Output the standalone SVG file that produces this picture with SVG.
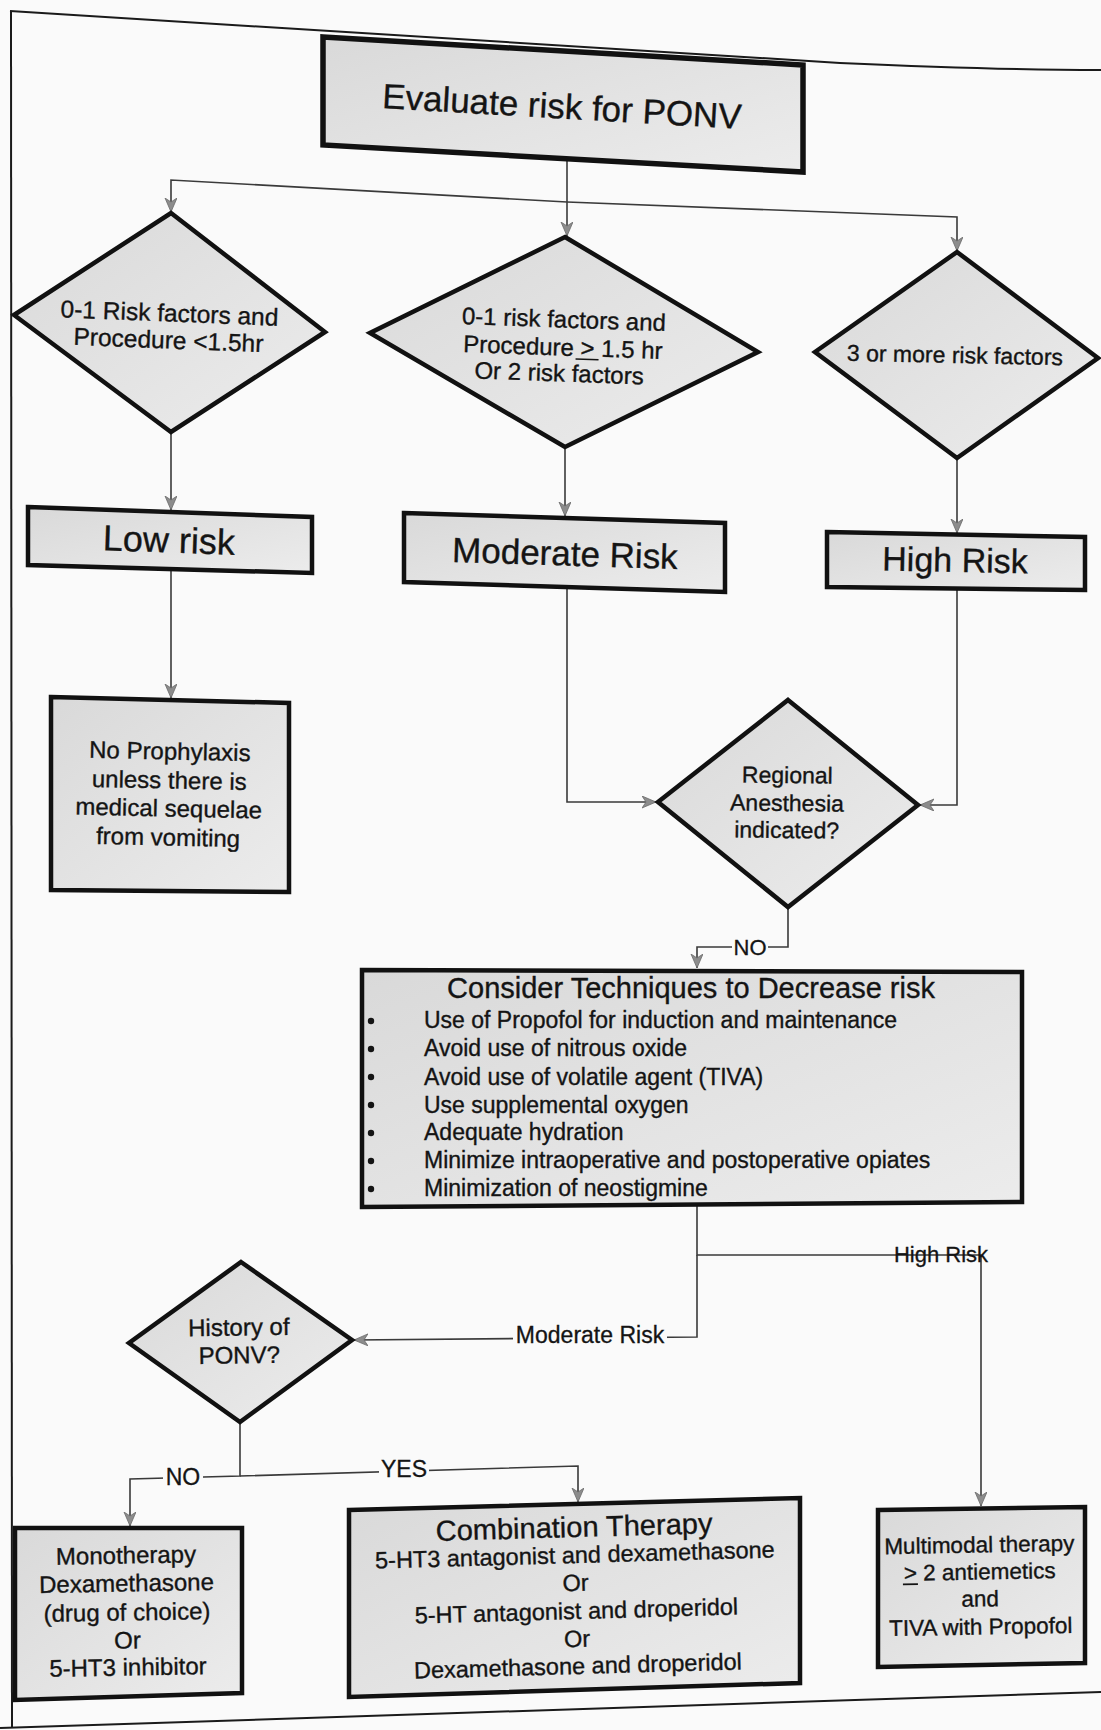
<svg xmlns="http://www.w3.org/2000/svg" width="1101" height="1730" viewBox="0 0 1101 1730">
<style>
.node{fill:url(#g);stroke:#111;stroke-width:4.5;stroke-linejoin:miter}
.t{font-family:"Liberation Sans",Arial,Helvetica,sans-serif;fill:#141414;stroke:#141414;stroke-width:0.35;text-anchor:middle;dominant-baseline:central}
.tl{font-family:"Liberation Sans",Arial,Helvetica,sans-serif;fill:#141414;stroke:#141414;stroke-width:0.35;dominant-baseline:central}
.c{fill:none;stroke:#3a3a3a;stroke-width:1.6}
.lab{font-family:"Liberation Sans",Arial,Helvetica,sans-serif;fill:#141414;stroke:#141414;stroke-width:0.3;text-anchor:middle;dominant-baseline:central;font-size:22px}
.bg{fill:#fafafa}
.ul{stroke:#141414;stroke-width:1.6}
.frame{fill:none;stroke:#1a1a1a;stroke-width:2}
</style>
<defs>
<linearGradient id="g" x1="0" y1="0" x2="1" y2="1">
<stop offset="0" stop-color="#d9d9d9"/>
<stop offset="1" stop-color="#ececec"/>
</linearGradient>
<marker id="a" markerUnits="userSpaceOnUse" markerWidth="16" markerHeight="14" refX="14" refY="6" orient="auto">
<path d="M0,0 L14,6 L0,12 L4,6 Z" fill="#8c8c8c" stroke="#6a6a6a" stroke-width="0.8"/>
</marker>
</defs>
<rect x="0" y="0" width="1101" height="1730" fill="#fafafa"/>
<g id="page-frame">
<path class="frame" d="M10,11 C200,22 500,42 840,63 C950,68 1040,70 1101,70"/>
<path class="frame" d="M11,11 L12,1728"/>
<path class="frame" d="M0,1728 L1101,1692"/>
</g>
<g id="connectors">
<path class="c" d="M567,159 L567,236" marker-end="url(#a)"/>
<path class="c" d="M567,202 L171,180 L171,212" marker-end="url(#a)"/>
<path class="c" d="M567,202 L957,217 L957,251" marker-end="url(#a)"/>
<path class="c" d="M171,432 L171,510" marker-end="url(#a)"/>
<path class="c" d="M565,447 L565,516" marker-end="url(#a)"/>
<path class="c" d="M957,458 L957,533" marker-end="url(#a)"/>
<path class="c" d="M171,569 L171,698" marker-end="url(#a)"/>
<path class="c" d="M567,588 L567,802 L656,802" marker-end="url(#a)"/>
<path class="c" d="M957,590 L957,805 L920,805" marker-end="url(#a)"/>
<path class="c" d="M788,907 L788,947 L697,947 L697,968" marker-end="url(#a)"/>
<path class="c" d="M697,1204 L697,1255 L981,1255 L981,1506" marker-end="url(#a)"/>
<path class="c" d="M697,1255 L697,1337 L354,1340" marker-end="url(#a)"/>
<path class="c" d="M240,1422 L240,1476 L130,1479 L130,1526" marker-end="url(#a)"/>
<path class="c" d="M240,1476 L578,1466 L578,1502" marker-end="url(#a)"/>
<rect class="bg" x="732" y="937" width="36" height="20"/>
<rect class="bg" x="513" y="1323" width="154" height="24"/>
<rect class="bg" x="163" y="1466" width="40" height="22"/>
<rect class="bg" x="379" y="1458" width="50" height="22"/>
<text class="lab" x="750" y="947">NO</text>
<text class="lab" x="941" y="1254">High Risk</text>
<text class="lab" x="590" y="1335" style="font-size:23px">Moderate Risk</text>
<text class="lab" x="183" y="1477" style="font-size:23px">NO</text>
<text class="lab" x="404" y="1469" style="font-size:23px">YES</text>
</g>
<g id="evaluate">
<polygon class="node" style="stroke-width:5.5" points="323,37 803,65 803,172 323,145"/>
<text class="t" x="562" y="106" font-size="35" transform="rotate(3.3 562 106)">Evaluate risk for PONV</text>
</g>
<g id="d-low">
<polygon class="node" points="171,213 325,332 171,432 14,315"/>
<g transform="rotate(2.2 169 327)">
<text class="t" x="169" y="313" font-size="24.5">0-1 Risk factors and</text>
<text class="t" x="169" y="340" font-size="24.5">Procedure &lt;1.5hr</text>
</g>
</g>
<g id="d-moderate">
<polygon class="node" points="565,237 758,352 565,447 370,333"/>
<g transform="rotate(2 563 346)">
<text class="t" x="563" y="319" font-size="24">0-1 risk factors and</text>
<text class="t" x="563" y="347" font-size="24">Procedure &gt; 1.5 hr</text>
<line class="ul" x1="576" y1="358.5" x2="599" y2="358.5"/>
<text class="t" x="560" y="373" font-size="24">Or 2 risk factors</text>
</g>
</g>
<g id="d-high">
<polygon class="node" points="957,252 1098,358 957,458 815,352"/>
<text class="t" x="955" y="355" font-size="23" transform="rotate(1.2 955 355)">3 or more risk factors</text>
</g>
<g id="low-risk">
<polygon class="node" points="28,507 312,517 312,573 28,565"/>
<text class="t" x="169" y="540" font-size="36" transform="rotate(2 169 540)">Low risk</text>
</g>
<g id="moderate-risk">
<polygon class="node" points="404,513 725,523 725,592 404,582"/>
<text class="t" x="565" y="553" font-size="35" transform="rotate(1.8 565 553)">Moderate Risk</text>
</g>
<g id="high-risk">
<polygon class="node" points="827,532 1085,537 1085,590 827,587"/>
<text class="t" x="955" y="560" font-size="34" transform="rotate(1.1 955 560)">High Risk</text>
</g>
<g id="no-prophylaxis">
<polygon class="node" points="51,697 289,703 289,892 51,890"/>
<g transform="rotate(1.2 169 794)">
<text class="t" x="169" y="751" font-size="24">No Prophylaxis</text>
<text class="t" x="169" y="780" font-size="24">unless there is</text>
<text class="t" x="169" y="808" font-size="24">medical sequelae</text>
<text class="t" x="169" y="837" font-size="24">from vomiting</text>
</g>
</g>
<g id="regional">
<polygon class="node" points="788,700 918,805 788,907 658,802"/>
<g transform="rotate(0.7 787 803)">
<text class="t" x="787" y="775" font-size="23">Regional</text>
<text class="t" x="787" y="803" font-size="23">Anesthesia</text>
<text class="t" x="787" y="830" font-size="23">indicated?</text>
</g>
</g>
<g id="consider">
<polygon class="node" points="362,970 1022,972 1022,1202 362,1207"/>
<text class="t" x="691" y="988" font-size="29">Consider Techniques to Decrease risk</text>
<g font-size="23">
<circle cx="371" cy="1021" r="3.2" fill="#141414"/>
<circle cx="371" cy="1049" r="3.2" fill="#141414"/>
<circle cx="371" cy="1077" r="3.2" fill="#141414"/>
<circle cx="371" cy="1105" r="3.2" fill="#141414"/>
<circle cx="371" cy="1133" r="3.2" fill="#141414"/>
<circle cx="371" cy="1161" r="3.2" fill="#141414"/>
<circle cx="371" cy="1189" r="3.2" fill="#141414"/>
<text class="tl" x="424" y="1020">Use of Propofol for induction and maintenance</text>
<text class="tl" x="424" y="1048">Avoid use of nitrous oxide</text>
<text class="tl" x="424" y="1077">Avoid use of volatile agent (TIVA)</text>
<text class="tl" x="424" y="1105">Use supplemental oxygen</text>
<text class="tl" x="424" y="1132">Adequate hydration</text>
<text class="tl" x="424" y="1160">Minimize intraoperative and postoperative opiates</text>
<text class="tl" x="424" y="1188">Minimization of neostigmine</text>
</g>
</g>
<g id="history">
<polygon class="node" points="241,1262 352,1340 240,1422 129,1343"/>
<g transform="rotate(-0.8 239 1341)">
<text class="t" x="239" y="1327" font-size="24">History of</text>
<text class="t" x="239" y="1355" font-size="24">PONV?</text>
</g>
</g>
<g id="monotherapy">
<polygon class="node" points="15,1528 242,1528 242,1693 15,1700"/>
<g transform="rotate(-1 127 1612)">
<text class="t" x="127" y="1555" font-size="24">Monotherapy</text>
<text class="t" x="127" y="1583" font-size="24">Dexamethasone</text>
<text class="t" x="127" y="1612" font-size="24">(drug of choice)</text>
<text class="t" x="127" y="1640" font-size="24">Or</text>
<text class="t" x="127" y="1667" font-size="24">5-HT3 inhibitor</text>
</g>
</g>
<g id="combination">
<polygon class="node" points="349,1510 800,1498 800,1683 349,1697"/>
<g transform="rotate(-1.6 576 1597)">
<text class="t" x="576" y="1527" font-size="29">Combination Therapy</text>
<text class="t" x="576" y="1555" font-size="23.5">5-HT3 antagonist and dexamethasone</text>
<text class="t" x="576" y="1583" font-size="23.5">Or</text>
<text class="t" x="576" y="1611" font-size="23.5">5-HT antagonist and droperidol</text>
<text class="t" x="576" y="1639" font-size="23.5">Or</text>
<text class="t" x="576" y="1666" font-size="23.5">Dexamethasone and droperidol</text>
</g>
</g>
<g id="multimodal">
<polygon class="node" points="878,1510 1085,1507 1085,1663 878,1667"/>
<g transform="rotate(-1 980 1586)">
<text class="t" x="980" y="1545" font-size="22.5">Multimodal therapy</text>
<text class="t" x="980" y="1572" font-size="22.5">&gt; 2 antiemetics</text>
<line class="ul" x1="903" y1="1583" x2="918" y2="1583"/>
<text class="t" x="980" y="1599" font-size="22.5">and</text>
<text class="t" x="980" y="1627" font-size="22.5">TIVA with Propofol</text>
</g>
</g>
</svg>
